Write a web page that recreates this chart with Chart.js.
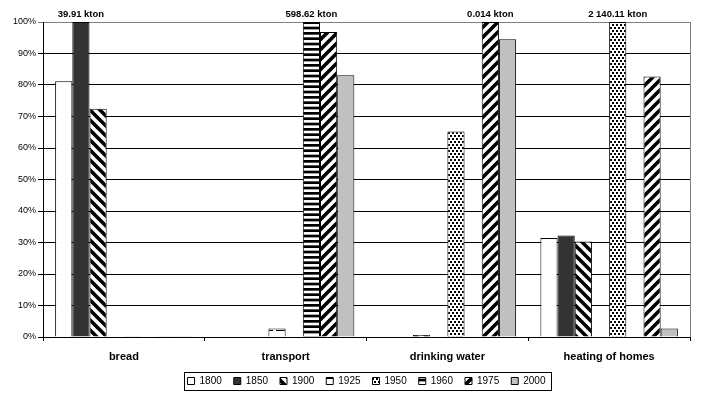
<!DOCTYPE html>
<html>
<head>
<meta charset="utf-8">
<script src="https://cdn.jsdelivr.net/npm/chart.js@4.4.0/dist/chart.umd.min.js"></script>
<style>
  html, body { margin: 0; padding: 0; background: #fff; }
</style>
</head>
<body>
<canvas id="chart" width="701" height="394"></canvas>
<script>
// data (share of the peak, %)
const categories = ['bread', 'transport', 'drinking water', 'heating of homes'];
const years = ['1800', '1850', '1900', '1925', '1950', '1960', '1975', '2000'];
const v1800 = [81.2, 0, 0, 31.4];
const v1850 = [100, 0, 0, 32.2];
const v1900 = [72.5, 0, 0.6, 30.3];
const v1925 = [0, 2.7, 0, 0];
const v1950 = [0.2, 0, 65.2, 100];
const v1960 = [0, 100, 0, 0];
const v1975 = [0.1, 96.8, 100, 82.7];
const v2000 = [0.1, 83.1, 94.5, 2.7];
const yTicks = [0, 10, 20, 30, 40, 50, 60, 70, 80, 90, 100];
// label above the 100% bar of each group
const peakText = ['39.91 kton', '598.62 kton', '0.014 kton', '2 140.11 kton'];
const peakYear = ['1850', '1960', '1975', '1950'];

const FONT = 'Arial, "Liberation Sans", sans-serif';
Chart.defaults.color = '#000';
Chart.defaults.font.family = FONT;

function tile(w, h, draw) {
    const c = document.createElement('canvas');
    c.width = w;
    c.height = h;
    const g = c.getContext('2d');
    g.fillStyle = '#fff';
    g.fillRect(0, 0, w, h);
    g.fillStyle = '#000';
    g.strokeStyle = '#000';
    draw(g);
    return document.createElement('canvas').getContext('2d').createPattern(c, 'repeat');
}

function diagonal(back) {
    return tile(10, 10, g => {
        g.lineWidth = 3.6;
        g.beginPath();
        if (back) {
            g.moveTo(-5, -5); g.lineTo(15, 15);
            g.moveTo(-5, 5); g.lineTo(5, 15);
            g.moveTo(5, -5); g.lineTo(15, 5);
        } else {
            g.moveTo(-5, 15); g.lineTo(15, -5);
            g.moveTo(-5, 5); g.lineTo(5, -5);
            g.moveTo(5, 15); g.lineTo(15, 5);
        }
        g.stroke();
    });
}

const fills = {
    '1800': '#ffffff',
    '1850': '#333333',
    '1900': diagonal(true),
    '1925': tile(12, 8, g => g.fillRect(0, 2, 9, 1)),
    '1950': tile(8, 6, g => {
        g.fillRect(0, 0, 2, 2); g.fillRect(4, 0, 2, 2);
        g.fillRect(2, 3, 2, 2); g.fillRect(6, 3, 2, 2);
    }),
    '1960': tile(4, 16, g => {
        g.fillRect(0, 0, 4, 2.7);
        g.fillRect(0, 5.33, 4, 2.7);
        g.fillRect(0, 10.67, 4, 2.7);
    }),
    '1975': diagonal(false),
    '2000': '#c0c0c0'
};
const values = [v1800, v1850, v1900, v1925, v1950, v1960, v1975, v2000];

const datasets = years.map((y, i) => ({
    label: y,
    data: values[i],
    backgroundColor: fills[y],
    borderColor: '#000',
    borderWidth: 1,
    borderSkipped: 'start',
    categoryPercentage: 0.85,
    barPercentage: 1
}));

const decorPlugin = {
    id: 'decor',
    afterDatasetsDraw(chart) {
        const c = chart.ctx;
        const a = chart.chartArea;
        c.save();
        // right frame of plot area
        c.strokeStyle = '#808080';
        c.lineWidth = 1;
        c.beginPath();
        c.moveTo(Math.round(a.right) + 0.5, a.top);
        c.lineTo(Math.round(a.right) + 0.5, a.bottom);
        c.stroke();
        // kton labels
        c.fillStyle = '#000';
        c.font = 'bold 9.5px ' + FONT;
        c.textAlign = 'center';
        c.textBaseline = 'alphabetic';
        peakText.forEach((t, j) => {
            const meta = chart.getDatasetMeta(years.indexOf(peakYear[j]));
            const bar = meta.data[j];
            c.fillText(t, bar.x, 17);
        });
        c.restore();
    },
    afterDraw(chart) {
        const boxes = chart.legend.legendHitBoxes;
        if (!boxes || !boxes.length) return;
        const c = chart.ctx;
        const left = boxes[0].left - 4;
        const last = boxes[boxes.length - 1];
        const right = last.left + last.width + 5;
        const top = boxes[0].top - 4;
        const bottom = boxes[0].top + boxes[0].height + 4;
        c.save();
        c.strokeStyle = '#000';
        c.lineWidth = 1;
        c.strokeRect(Math.round(left) + 0.5, Math.round(top) + 0.5,
            Math.round(right - left), Math.round(bottom - top));
        c.restore();
    }
};

new Chart(document.getElementById('chart'), {
    type: 'bar',
    data: { labels: categories, datasets: datasets },
    plugins: [decorPlugin],
    options: {
        responsive: false,
        animation: false,
        layout: { padding: { top: 22, right: 11, bottom: -2, left: 0 } },
        plugins: {
            tooltip: { enabled: false },
            legend: {
                position: 'bottom',
                fullSize: false,
                labels: {
                    boxWidth: 7,
                    boxHeight: 7,
                    padding: 12,
                    color: '#000',
                    font: { size: 10, family: FONT }
                }
            }
        },
        scales: {
            x: {
                afterFit: s => { s.height = 27; },
                grid: {
                    offset: true,
                    drawOnChartArea: false,
                    drawTicks: true,
                    tickLength: 4,
                    color: '#000'
                },
                border: { color: '#000' },
                ticks: {
                    font: { size: 11, weight: 'bold', family: FONT },
                    color: '#000',
                    padding: 9
                }
            },
            y: {
                min: 0,
                max: 100,
                afterFit: s => { s.width = 43; },
                afterBuildTicks: s => { s.ticks = yTicks.map(v => ({ value: v })); },
                grid: {
                    color: ctx => ctx.tick && ctx.tick.value === 100 ? '#808080' : '#000',
                    tickLength: 5
                },
                border: { color: '#000' },
                ticks: {
                    font: { size: 9, family: FONT },
                    color: '#000',
                    padding: 2,
                    callback: v => v + '%'
                }
            }
        }
    }
});
</script>
</body>
</html>
